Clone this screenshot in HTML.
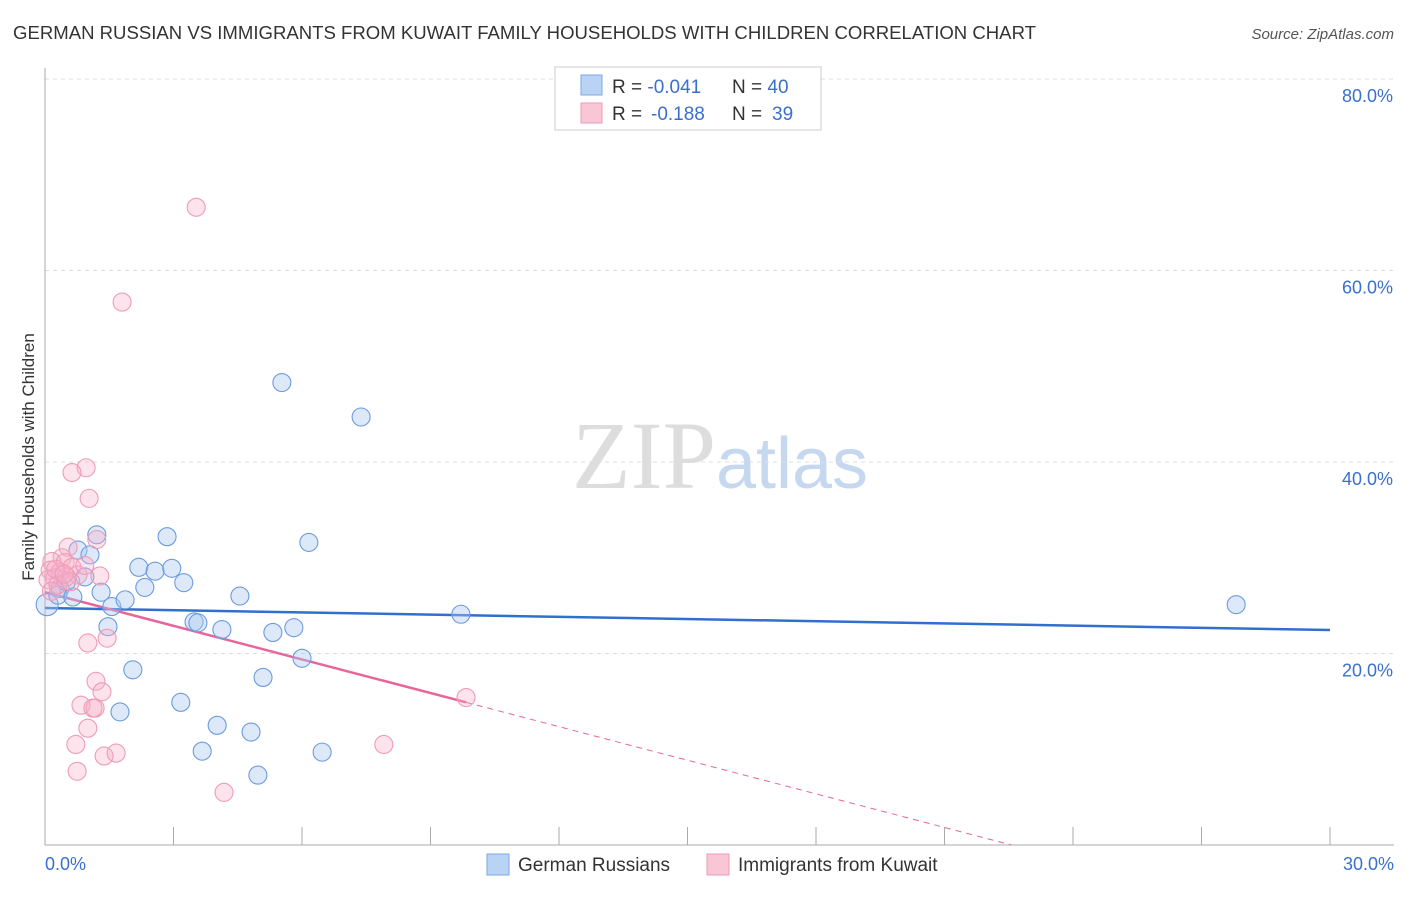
<!DOCTYPE html>
<html><head><meta charset="utf-8"><style>
body{margin:0;background:#fff;font-family:"Liberation Sans",sans-serif}
svg text{font-family:"Liberation Sans",sans-serif}
</style></head><body>
<svg id="chart" width="1406" height="892" xmlns="http://www.w3.org/2000/svg">
<text x="13" y="39" font-size="18" fill="#333" textLength="1023" lengthAdjust="spacingAndGlyphs">GERMAN RUSSIAN VS IMMIGRANTS FROM KUWAIT FAMILY HOUSEHOLDS WITH CHILDREN CORRELATION CHART</text>
<text x="1394" y="39" font-size="15" fill="#555" text-anchor="end" font-style="italic">Source: ZipAtlas.com</text>
<text x="720" y="488" font-size="96" text-anchor="middle"><tspan fill="#ddd" font-family="Liberation Serif">ZIP</tspan><tspan fill="#c5d8f0" font-size="72">atlas</tspan></text>
<g id="grid"></g>
<g id="axes"></g>
<g id="lines"></g>
<g id="points"></g>
<text transform="translate(34,457) rotate(-90)" font-size="17" fill="#333" text-anchor="middle">Family Households with Children</text>
<g>
<rect x="555" y="67" width="266" height="63" fill="#fff" stroke="#ccc"/>
<rect x="581" y="75" width="21" height="20" fill="#b9d3f5" stroke="#7aa7e6"/>
<rect x="581" y="103" width="21" height="20" fill="#f9c6d6" stroke="#ee9ab5"/>
<text x="612" y="93" font-size="19" fill="#333">R = <tspan fill="#3a70cc">-0.041</tspan><tspan x="732">N = </tspan><tspan fill="#3a70cc">40</tspan></text>
<text x="612" y="120" font-size="19" fill="#333">R = <tspan fill="#3a70cc" x="651">-0.188</tspan><tspan x="732">N = </tspan><tspan fill="#3a70cc" x="772">39</tspan></text>
</g>
<g>
<rect x="487" y="854" width="22" height="21" fill="#b9d3f5" stroke="#7aa7e6"/>
<text x="518" y="871" font-size="19" fill="#333">German Russians</text>
<rect x="707" y="854" width="22" height="21" fill="#f9c6d6" stroke="#ee9ab5"/>
<text x="738" y="871" font-size="19" fill="#333">Immigrants from Kuwait</text>
</g>
</svg>
<script>
const blueX=[0.05,0.35,0.3,0.65,0.77,0.93,1.05,1.21,1.31,1.47,1.56,1.75,1.87,2.05,2.19,2.33,2.57,2.85,2.96,3.17,3.24,3.48,3.57,3.67,4.02,4.13,4.55,4.81,4.97,5.09,5.32,5.53,5.81,6.0,6.16,6.47,7.38,9.71,27.81,0.5];
const blueY=[25.1,26.8,26.1,25.9,30.8,28.0,30.3,32.4,26.4,22.8,24.9,13.9,25.6,18.3,29.0,26.9,28.6,32.2,28.9,14.9,27.4,23.3,23.2,9.8,12.5,22.5,26.0,11.8,7.3,17.5,22.2,48.3,22.7,19.5,31.6,9.7,44.7,24.1,25.1,27.5];
const pinkX=[3.53,1.8,0.96,0.63,1.03,1.21,0.54,0.4,0.16,0.12,0.23,0.35,0.47,0.63,0.77,0.93,1.28,0.07,0.3,1.0,1.45,1.19,1.33,0.84,1.17,1.12,1.0,0.72,0.75,1.38,1.66,4.18,7.91,9.83,0.5,0.25,0.6,0.15,0.45];
const pinkY=[66.6,56.7,39.4,38.9,36.2,31.9,31.1,30.0,29.6,28.7,27.9,28.5,29.5,29.0,28.2,29.2,28.1,27.7,27.2,21.1,21.6,17.1,16.0,14.6,14.3,14.3,12.2,10.5,7.7,9.3,9.6,5.5,10.5,15.4,28.0,28.8,27.5,26.5,28.3];
const yTicks=[20,40,60,80];
const yTickLabels=["20.0%","40.0%","60.0%","80.0%"];
const xTickLabels=["0.0%","30.0%"];
const blueFit=[24.75,-0.0767];
const pinkFit=[26.4,-1.17];
const pinkSolidEnd=9.83;
const NS="http://www.w3.org/2000/svg";
const sx=v=>45+v/30*1285, sy=v=>845-v*9.575;
function mk(t,a,p){const e=document.createElementNS(NS,t);for(const k in a)e.setAttribute(k,a[k]);document.getElementById(p).appendChild(e);return e;}
yTicks.forEach((t,i)=>{
 const l=mk('line',{x1:45,x2:1394,y1:sy(t),y2:sy(t),stroke:'#ddd','stroke-dasharray':'4,4'},'grid');
 
 
 const tx=mk('text',{x:1393,y:sy(t)+23,'font-size':18,fill:'#3a70cc','text-anchor':'end'},'grid');
 tx.textContent=yTickLabels[i];
 
 
});
let ax=mk('line',{x1:45,x2:45,y1:68,y2:845,stroke:'#aaa'},'axes');


ax=mk('line',{x1:45,x2:1394,y1:845,y2:845,stroke:'#aaa'},'axes');


for(let i=0;i<=10;i++){const x=sx(i*3);const t=mk('line',{x1:x,x2:x,y1:827,y2:845,stroke:'#aaa'},'axes');
 
 }
[[0,'start',45],[30,'end',1394]].forEach((d,i)=>{const t=mk('text',{x:d[2],y:870,'font-size':18,fill:'#3a70cc','text-anchor':d[1]},'axes');t.textContent=xTickLabels[i];
 
 });
let ln=mk('line',{x1:sx(0),y1:sy(blueFit[0]),x2:sx(30),y2:sy(blueFit[0]+blueFit[1]*30),stroke:'#2f6fd0','stroke-width':2.5},'lines');


ln=mk('line',{x1:sx(0),y1:sy(pinkFit[0]),x2:sx(pinkSolidEnd),y2:sy(pinkFit[0]+pinkFit[1]*pinkSolidEnd),stroke:'#e8659a','stroke-width':2.5},'lines');


const xz=-pinkFit[0]/pinkFit[1];
ln=mk('line',{x1:sx(pinkSolidEnd),y1:sy(pinkFit[0]+pinkFit[1]*pinkSolidEnd),x2:sx(xz),y2:sy(0),stroke:'#e8659a','stroke-width':1,'stroke-dasharray':'6,5'},'lines');


blueX.forEach((x,i)=>{const c=mk('circle',{cx:sx(x),cy:sy(blueY[i]),r:i==0?11:9,fill:'rgba(170,200,240,0.4)',stroke:'#6b9be0','stroke-width':1.1},'points');
 
 });
pinkX.forEach((x,i)=>{const c=mk('circle',{cx:sx(x),cy:sy(pinkY[i]),r:9,fill:'rgba(247,175,200,0.35)',stroke:'#ef9bb8','stroke-width':1.1},'points');
 
 });
</script>
</body></html>
